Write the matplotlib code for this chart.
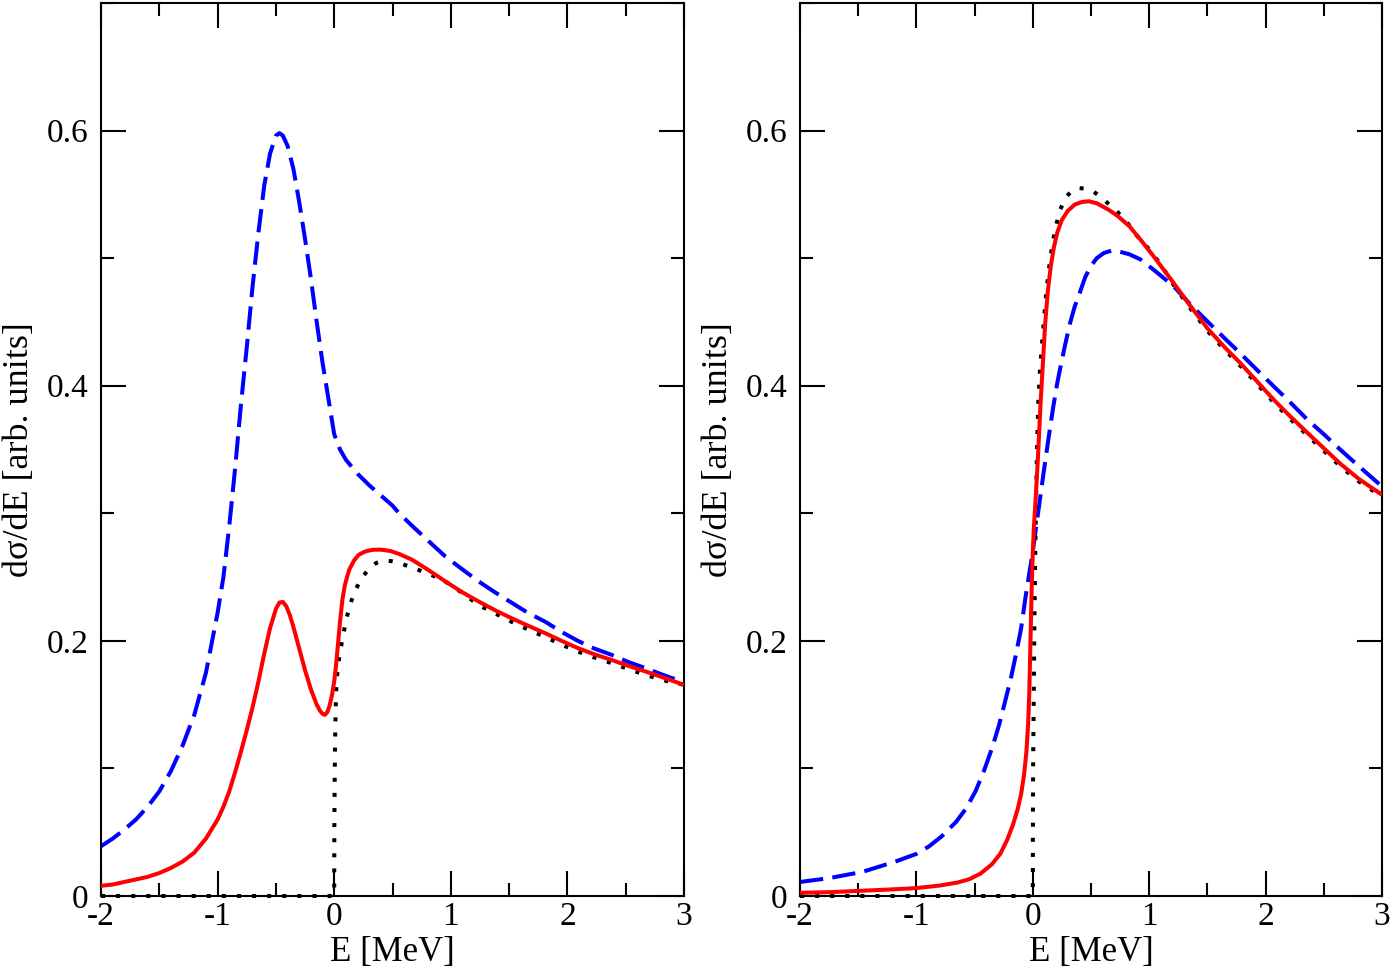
import numpy as np
import matplotlib
matplotlib.use('Agg')
import matplotlib.pyplot as plt
from matplotlib.ticker import MultipleLocator, FuncFormatter

plt.rcParams['font.family'] = ['Liberation Serif', 'DejaVu Serif']

# ---------------- data ----------------
# Left panel
left_blue_x = [-2.0, -1.9, -1.8, -1.7, -1.6, -1.5, -1.4, -1.3, -1.2, -1.1, -1.0, -0.95, -0.9,
               -0.85, -0.8, -0.75, -0.7, -0.65, -0.6, -0.55, -0.5, -0.47, -0.44, -0.4, -0.35,
               -0.3, -0.25, -0.2, -0.15, -0.1, -0.05, 0.0, 0.05, 0.1, 0.2, 0.3, 0.4, 0.5, 0.557,
               0.67, 0.8, 0.955, 1.1, 1.24, 1.38, 1.52, 1.66, 1.81, 1.95, 2.09, 2.23, 2.38,
               2.52, 2.67, 2.8, 2.89, 3.0]
left_blue_y = [0.039, 0.045, 0.052, 0.06, 0.07, 0.082, 0.098, 0.118, 0.142, 0.175, 0.222, 0.25,
               0.29, 0.335, 0.385, 0.43, 0.478, 0.52, 0.557, 0.582, 0.596, 0.598, 0.596, 0.588,
               0.57, 0.544, 0.515, 0.484, 0.45, 0.418, 0.39, 0.362, 0.35, 0.342, 0.331, 0.322,
               0.314, 0.306, 0.3, 0.29, 0.279, 0.266, 0.256, 0.2465, 0.238, 0.23, 0.222, 0.215,
               0.207, 0.2, 0.194, 0.189, 0.1835, 0.1786, 0.174, 0.171, 0.168]

left_red_x = [-2.0, -1.9, -1.8, -1.7, -1.6, -1.5, -1.4, -1.3, -1.2, -1.1, -1.0, -0.95, -0.9,
              -0.85, -0.8, -0.75, -0.7, -0.65, -0.6, -0.55, -0.5, -0.47, -0.44, -0.41, -0.38,
              -0.35, -0.3, -0.25, -0.2, -0.15, -0.12, -0.1, -0.08, -0.06, -0.04, -0.02, 0.0,
              0.015, 0.03, 0.05, 0.07, 0.09, 0.11, 0.13, 0.17, 0.21, 0.27, 0.33, 0.4, 0.48,
              0.56, 0.67, 0.8, 0.955, 1.1, 1.24, 1.38, 1.52, 1.66, 1.81, 1.95, 2.09, 2.23,
              2.38, 2.52, 2.67, 2.83, 3.0]
left_red_y = [0.008, 0.009, 0.011, 0.013, 0.015, 0.018, 0.022, 0.027, 0.034, 0.045, 0.06, 0.07,
              0.082, 0.097, 0.113, 0.13, 0.148, 0.168, 0.19, 0.21, 0.225, 0.23, 0.2305, 0.227,
              0.22, 0.211, 0.194, 0.177, 0.162, 0.15, 0.145, 0.1428, 0.142, 0.144, 0.149,
              0.157, 0.168, 0.18, 0.195, 0.215, 0.232, 0.243, 0.25, 0.256, 0.263, 0.2675,
              0.2702, 0.2714, 0.2715, 0.2705, 0.268, 0.2635, 0.256, 0.2465, 0.238, 0.2308,
              0.224, 0.2178, 0.212, 0.206, 0.2, 0.1943, 0.1895, 0.185, 0.1805, 0.176, 0.171,
              0.1655]

left_dot_x = [-2.0, 0.0, 0.001, 0.002, 0.004, 0.006, 0.01, 0.015, 0.02, 0.03, 0.045, 0.06,
              0.08, 0.1, 0.13, 0.17, 0.22, 0.3, 0.36, 0.42, 0.49, 0.56, 0.68, 0.8, 0.9, 1.0,
              1.12, 1.24, 1.38, 1.52, 1.66, 1.81, 1.95, 2.09, 2.23, 2.38, 2.52, 2.67, 2.83, 3.0]
left_dot_y = [0.0, 0.0, 0.045, 0.065, 0.09, 0.11, 0.135, 0.155, 0.167, 0.178, 0.188, 0.196,
              0.206, 0.215, 0.227, 0.237, 0.247, 0.257, 0.261, 0.263, 0.2625, 0.261, 0.257,
              0.253, 0.249, 0.244, 0.236, 0.228, 0.2215, 0.215, 0.209, 0.203, 0.197, 0.1916,
              0.187, 0.1825, 0.178, 0.1733, 0.169, 0.1655]

# Right panel
right_blue_x = [-2.0, -1.75, -1.46, -1.18, -1.0, -0.89, -0.78, -0.66, -0.57, -0.49, -0.42,
                -0.35, -0.29, -0.234, -0.19, -0.149, -0.1, -0.063, -0.03, 0.0, 0.025, 0.051,
                0.09, 0.137, 0.175, 0.21, 0.245, 0.28, 0.32, 0.36, 0.4, 0.45, 0.5, 0.55, 0.61,
                0.68, 0.75, 0.83, 0.925, 1.05, 1.21, 1.35, 1.5, 1.65, 1.78, 1.93, 2.07, 2.2,
                2.36, 2.5, 2.64, 2.8, 3.0]
right_blue_y = [0.011, 0.014, 0.019, 0.027, 0.033, 0.039, 0.047, 0.058, 0.069, 0.0825, 0.098,
                0.116, 0.134, 0.154, 0.17, 0.1875, 0.21, 0.234, 0.253, 0.27, 0.287, 0.304,
                0.33, 0.36, 0.383, 0.402, 0.418, 0.433, 0.449, 0.462, 0.472, 0.485, 0.494,
                0.5, 0.504, 0.506, 0.505, 0.503, 0.499, 0.49, 0.478, 0.464, 0.4504, 0.437,
                0.4256, 0.412, 0.3995, 0.388, 0.3733, 0.362, 0.35, 0.337, 0.321]

right_red_x = [-2.0, -1.75, -1.5, -1.25, -1.0, -0.8, -0.65, -0.55, -0.45, -0.35, -0.28, -0.22,
               -0.17, -0.13, -0.1, -0.075, -0.055, -0.04, -0.03, -0.02, -0.01, 0.0, 0.01, 0.025,
               0.045, 0.066, 0.085, 0.105, 0.13, 0.155, 0.18, 0.21, 0.25, 0.3, 0.36, 0.42, 0.48,
               0.55, 0.65, 0.73, 0.83, 0.925, 1.05, 1.21, 1.35, 1.5, 1.65, 1.78, 1.93, 2.07,
               2.2, 2.36, 2.5, 2.64, 2.8, 3.0]
right_red_y = [0.0025, 0.003, 0.004, 0.005, 0.0062, 0.0082, 0.0105, 0.013, 0.0175, 0.025,
               0.033, 0.044, 0.056, 0.068, 0.08, 0.095, 0.113, 0.135, 0.16, 0.2, 0.24, 0.27,
               0.29, 0.312, 0.345, 0.385, 0.415, 0.447, 0.475, 0.494, 0.508, 0.52, 0.53, 0.537,
               0.542, 0.544, 0.5446, 0.543, 0.538, 0.533, 0.525, 0.5145, 0.5, 0.4805, 0.463,
               0.445, 0.43, 0.418, 0.403, 0.389, 0.377, 0.363, 0.351, 0.339, 0.327, 0.3145]

right_dot_x = [-2.0, 0.0, 0.001, 0.002, 0.004, 0.006, 0.008, 0.012, 0.016, 0.022, 0.028, 0.036,
               0.048, 0.06, 0.075, 0.09, 0.105, 0.12, 0.15, 0.19, 0.235, 0.29, 0.34, 0.39, 0.45,
               0.52, 0.62, 0.72, 0.81, 0.89, 0.98, 1.1, 1.21, 1.35, 1.5, 1.65, 1.78, 1.93, 2.07,
               2.2, 2.36, 2.5, 2.64, 2.8, 3.0]
right_dot_y = [0.0, 0.0, 0.06, 0.085, 0.115, 0.135, 0.154, 0.195, 0.232, 0.275, 0.31, 0.35,
               0.389, 0.41, 0.428, 0.445, 0.462, 0.477, 0.5, 0.522, 0.538, 0.5485, 0.553, 0.555,
               0.5545, 0.5524, 0.545, 0.537, 0.528, 0.518, 0.509, 0.495, 0.479, 0.461, 0.443,
               0.428, 0.416, 0.401, 0.387, 0.375, 0.361, 0.349, 0.337, 0.325, 0.313]

x_label = 'E [MeV]'
y_label = 'd\u03c3/dE [arb. units]'

# ---------------- figure ----------------
fig = plt.figure(figsize=(13.94, 9.80), dpi=100)
ax1 = fig.add_axes([101 / 1394, 84 / 980, 583 / 1394, 893 / 980])
ax2 = fig.add_axes([800 / 1394, 84 / 980, 582 / 1394, 893 / 980])

LW = 2.9

def xfmt(v, pos):
    return '%d' % int(round(v))

def yfmt(v, pos):
    if abs(v) < 1e-9:
        return '0'
    return ('%.1f' % v)

panels = [
    (ax1, left_blue_x, left_blue_y, left_red_x, left_red_y, left_dot_x, left_dot_y),
    (ax2, right_blue_x, right_blue_y, right_red_x, right_red_y, right_dot_x, right_dot_y),
]

for ax, bx, by, rx, ry, dx, dy in panels:
    ax.plot(dx, dy, color='black', lw=LW, linestyle=(0, (1, 2.75)),
            dash_capstyle='butt', clip_on=False, zorder=3)
    ax.plot(bx, by, color='#0000ff', lw=LW, linestyle=(0, (5.8, 2.3)),
            dash_capstyle='butt', solid_joinstyle='round', zorder=2)
    ax.plot(rx, ry, color='#ff0000', lw=LW, solid_capstyle='butt',
            solid_joinstyle='round', zorder=4)

    ax.set_xlim(-2, 3)
    ax.set_ylim(0, 0.7)
    ax.xaxis.set_major_locator(MultipleLocator(1))
    ax.xaxis.set_minor_locator(MultipleLocator(0.5))
    ax.yaxis.set_major_locator(MultipleLocator(0.2))
    ax.yaxis.set_minor_locator(MultipleLocator(0.1))
    ax.xaxis.set_major_formatter(FuncFormatter(xfmt))
    ax.yaxis.set_major_formatter(FuncFormatter(yfmt))

    ax.tick_params(which='both', direction='in', top=True, right=True, width=1.5)
    ax.tick_params(which='major', length=18)
    ax.tick_params(which='minor', length=9.5)
    ax.tick_params(axis='x', which='major', labelsize=24, pad=4)
    ax.tick_params(axis='y', which='major', labelsize=24, pad=9)
    for s in ax.spines.values():
        s.set_linewidth(1.5)

    ax.set_xlabel(x_label, fontsize=25, labelpad=3)
    ax.set_ylabel(y_label, fontsize=26, labelpad=8)

fig.savefig('out.png', dpi=100)
